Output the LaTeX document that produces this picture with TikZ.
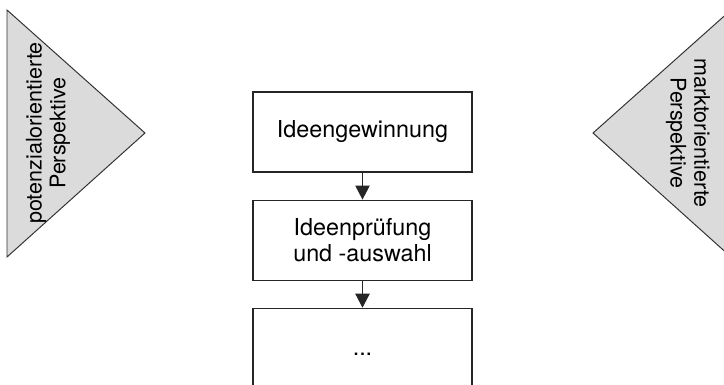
\documentclass[tikz,border=0pt]{standalone}
\usepackage{fontspec}
\setmainfont{TeX Gyre Heros}
\usepackage{xcolor}
\usepackage{tikz}
\usetikzlibrary{positioning,arrows.meta}

\tikzset{
  phase/.style={draw=black!85, line width=0.8pt, minimum width=5.475cm,
    minimum height=2cm, align=center, inner sep=0pt,
    font=\fontsize{16.6}{18.5}\selectfont},
  flow/.style={draw=black!85, line width=0.8pt,
    -{Triangle[length=0.35cm,width=0.36cm]}},
  wedge/.style={fill=black!14, draw=black!80, line width=0.7pt},
}

\begin{document}
\begin{tikzpicture}[font=\fontsize{15.3}{17}\selectfont]
\useasboundingbox (0,0) rectangle (18.1,9.6);
\clip (0,0) rectangle (18.1,9.6);

% Left triangle
\filldraw[wedge] (0.175,9.35) -- (3.625,6.275) -- (0.175,3.175) -- cycle;
\node[rotate=90, align=center] (pot) at (1.2,6.275)
  {potenzialorientierte\\Perspektive};

% Right triangle
\filldraw[wedge] (18.275,9.35) -- (14.825,6.275) -- (18.275,3.175) -- cycle;
\node[rotate=-90, align=center] (mkt) at (17.2,6.275)
  {marktorientierte\\Perspektive};

% Phases
\node[phase] (gen) at (9.0625,6.3) {Ideengewinnung};
\node[phase, below=0.675cm of gen] (pruef) {Ideenpr\"ufung\\und -auswahl};
\node[phase, below=0.675cm of pruef, minimum height=2.3cm] (more) {...};

\draw[flow] (gen) -- (pruef);
\draw[flow] (pruef) -- (more);
\end{tikzpicture}
\end{document}
